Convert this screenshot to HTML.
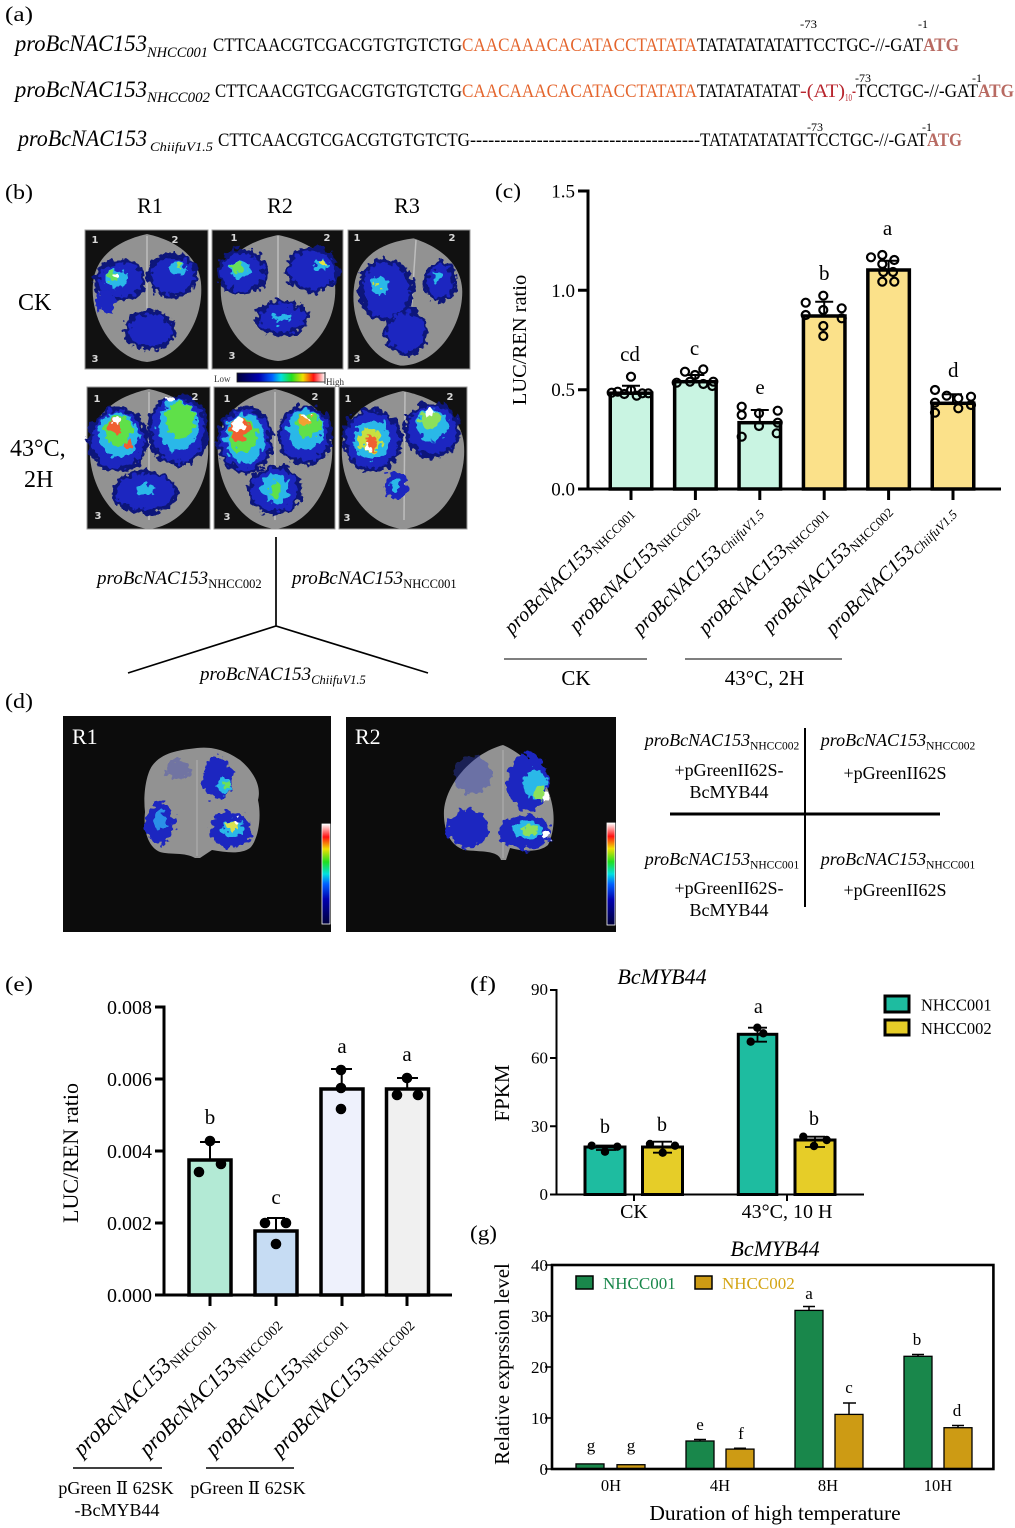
<!DOCTYPE html>
<html><head><meta charset="utf-8"><style>html,body{margin:0;padding:0;background:#fff}svg{display:block}</style></head>
<body>
<svg xmlns="http://www.w3.org/2000/svg" xmlns:xlink="http://www.w3.org/1999/xlink" width="1015" height="1528" viewBox="0 0 1015 1528" font-family="'Liberation Serif','DejaVu Serif','Noto Serif CJK SC',serif">
<defs>
 <linearGradient id="cbh" x1="0" y1="0" x2="1" y2="0">
  <stop offset="0" stop-color="#00003a"/><stop offset="0.25" stop-color="#0000b0"/><stop offset="0.4" stop-color="#0060ff"/><stop offset="0.5" stop-color="#00e0e0"/><stop offset="0.62" stop-color="#20e020"/><stop offset="0.75" stop-color="#f0e000"/><stop offset="0.87" stop-color="#ff1010"/><stop offset="1" stop-color="#ffffff"/>
 </linearGradient>
 <linearGradient id="cbv" x1="0" y1="1" x2="0" y2="0">
  <stop offset="0" stop-color="#00003a"/><stop offset="0.25" stop-color="#0000b0"/><stop offset="0.4" stop-color="#0060ff"/><stop offset="0.5" stop-color="#00e0e0"/><stop offset="0.62" stop-color="#20e020"/><stop offset="0.75" stop-color="#f0e000"/><stop offset="0.87" stop-color="#ff1010"/><stop offset="1" stop-color="#ffffff"/>
 </linearGradient>
 <filter id="rag" x="-25%" y="-25%" width="150%" height="150%">
  <feTurbulence type="fractalNoise" baseFrequency="0.16" numOctaves="2" seed="3" result="n"/>
  <feDisplacementMap in="SourceGraphic" in2="n" scale="13" xChannelSelector="R" yChannelSelector="G"/>
 </filter>
 <path id="leaf" d="M0,-1 C0.25,-0.95 0.9,-0.8 0.98,-0.25 C1.05,0.35 0.6,0.95 0,1 C-0.6,0.95 -1.05,0.35 -0.98,-0.25 C-0.9,-0.8 -0.25,-0.95 0,-1Z"/>
</defs>
<rect width="1015" height="1528" fill="#fff"/>

<!-- ================= (a) ================= -->
<text x="5" y="21" font-size="21" textLength="28" lengthAdjust="spacingAndGlyphs">(a)</text>
<g font-size="12">
 <text x="800" y="28" textLength="17" lengthAdjust="spacingAndGlyphs">-73</text><text x="918" y="28">-1</text>
 <text x="855" y="82" textLength="16" lengthAdjust="spacingAndGlyphs">-73</text><text x="972" y="82">-1</text>
 <text x="807" y="131" textLength="16" lengthAdjust="spacingAndGlyphs">-73</text><text x="922" y="131">-1</text>
</g>
<!-- line 1 -->
<text x="15" y="51" font-size="23" font-style="italic" textLength="132" lengthAdjust="spacingAndGlyphs">proBcNAC153</text>
<text x="147" y="57" font-size="14.5" font-style="italic" textLength="61" lengthAdjust="spacingAndGlyphs">NHCC001</text>
<g font-size="18.5">
<text x="213" y="51" textLength="249" lengthAdjust="spacingAndGlyphs">CTTCAACGTCGACGTGTGTCTG</text>
<text x="462" y="51" fill="#e4652d" textLength="235" lengthAdjust="spacingAndGlyphs">CAACAAACACATACCTATATA</text>
<text x="697" y="51" textLength="226" lengthAdjust="spacingAndGlyphs">TATATATATATTCCTGC-//-GAT</text>
<text x="923" y="51" font-weight="bold" fill="#b86a62" textLength="36" lengthAdjust="spacingAndGlyphs">ATG</text>
</g>
<!-- line 2 -->
<text x="15" y="97" font-size="23" font-style="italic" textLength="132" lengthAdjust="spacingAndGlyphs">proBcNAC153</text>
<text x="147" y="102" font-size="14.5" font-style="italic" textLength="63" lengthAdjust="spacingAndGlyphs">NHCC002</text>
<g font-size="18.5">
<text x="215" y="97" textLength="247" lengthAdjust="spacingAndGlyphs">CTTCAACGTCGACGTGTGTCTG</text>
<text x="462" y="97" fill="#e4652d" textLength="235" lengthAdjust="spacingAndGlyphs">CAACAAACACATACCTATATA</text>
<text x="697" y="97" textLength="103" lengthAdjust="spacingAndGlyphs">TATATATATAT</text>
<text x="800" y="97" fill="#b8262e" textLength="45" lengthAdjust="spacingAndGlyphs">-(AT)</text>
<text x="845" y="101" font-size="11" fill="#b8262e" textLength="7" lengthAdjust="spacingAndGlyphs">10</text>
<text x="852" y="97" fill="#b8262e" textLength="4" lengthAdjust="spacingAndGlyphs">-</text>
<text x="856" y="97" textLength="122" lengthAdjust="spacingAndGlyphs">TCCTGC-//-GAT</text>
<text x="978" y="97" font-weight="bold" fill="#b86a62" textLength="36" lengthAdjust="spacingAndGlyphs">ATG</text>
</g>
<!-- line 3 -->
<text x="18" y="146" font-size="23" font-style="italic" textLength="129" lengthAdjust="spacingAndGlyphs">proBcNAC153</text>
<text x="150" y="151" font-size="13" font-style="italic" textLength="63" lengthAdjust="spacingAndGlyphs">ChiifuV1.5</text>
<g font-size="18.5">
<text x="218" y="146" textLength="252" lengthAdjust="spacingAndGlyphs">CTTCAACGTCGACGTGTGTCTG</text>
<text x="470" y="146" textLength="230" lengthAdjust="spacingAndGlyphs">--------------------------------------</text>
<text x="700" y="146" textLength="227" lengthAdjust="spacingAndGlyphs">TATATATATATTCCTGC-//-GAT</text>
<text x="927" y="146" font-weight="bold" fill="#b86a62" textLength="35" lengthAdjust="spacingAndGlyphs">ATG</text>
</g>

<!-- ================= (b) ================= -->
<text x="5" y="199" font-size="21" textLength="28" lengthAdjust="spacingAndGlyphs">(b)</text>
<g font-size="22" text-anchor="middle"><text x="150" y="213">R1</text><text x="280" y="213">R2</text><text x="407" y="213">R3</text></g>
<text x="18" y="310" font-size="24">CK</text>
<text x="10" y="456" font-size="24">43°C,</text>
<text x="24" y="487" font-size="24">2H</text>

<!-- row 1 R1 -->
<rect x="85" y="230" width="123" height="139" fill="#111" stroke="#9a9a9a" stroke-width="1"/>
<use xlink:href="#leaf" href="#leaf" transform="translate(147,298) scale(55,64)" fill="#929292"/>
<line x1="147" y1="236" x2="147" y2="335" stroke="#bdbdbd" stroke-width="1.5"/>
<g filter="url(#rag)">
 <ellipse cx="120" cy="280" rx="26" ry="21" fill="#10187a"/>
 <ellipse cx="172" cy="275" rx="25" ry="23" fill="#10187a"/>
 <ellipse cx="150" cy="330" rx="26" ry="20" fill="#10187a"/>
 <ellipse cx="120" cy="280" rx="22" ry="17" fill="#1a26c0"/>
 <ellipse cx="172" cy="275" rx="21" ry="19" fill="#1a26c0"/>
 <ellipse cx="150" cy="330" rx="22" ry="16" fill="#1a26c0"/>
 <ellipse cx="106" cy="302" rx="10" ry="12" fill="#1a26c0"/>
 <ellipse cx="116" cy="278" rx="11" ry="9" fill="#2ab8e8"/>
 <ellipse cx="178" cy="268" rx="8" ry="7" fill="#2ab8e8"/>
 <ellipse cx="113" cy="276" rx="6" ry="5" fill="#6be05a"/>
 <ellipse cx="180" cy="266" rx="4" ry="3" fill="#8ee05a"/>
 <ellipse cx="116" cy="276" rx="3" ry="3" fill="#fff"/>
</g>
<!-- row 1 R2 -->
<rect x="212" y="230" width="131" height="139" fill="#111" stroke="#9a9a9a" stroke-width="1"/>
<use xlink:href="#leaf" href="#leaf" transform="translate(278,298) scale(58,63)" fill="#929292"/>
<line x1="278" y1="236" x2="278" y2="330" stroke="#bdbdbd" stroke-width="1.5"/>
<g filter="url(#rag)">
 <ellipse cx="242" cy="272" rx="25" ry="23" fill="#10187a"/>
 <ellipse cx="312" cy="270" rx="27" ry="23" fill="#10187a"/>
 <ellipse cx="282" cy="318" rx="27" ry="18" fill="#10187a"/>
 <ellipse cx="242" cy="272" rx="21" ry="19" fill="#1a26c0"/>
 <ellipse cx="312" cy="270" rx="23" ry="19" fill="#1a26c0"/>
 <ellipse cx="282" cy="318" rx="23" ry="14" fill="#1a26c0"/>
 <ellipse cx="240" cy="270" rx="10" ry="9" fill="#2ab8e8"/>
 <ellipse cx="320" cy="265" rx="7" ry="6" fill="#2ab8e8"/>
 <ellipse cx="238" cy="268" rx="6" ry="6" fill="#6be05a"/>
 <ellipse cx="322" cy="263" rx="3" ry="3" fill="#e8e040"/>
 <ellipse cx="282" cy="318" rx="8" ry="5" fill="#2ab8e8"/>
</g>
<!-- row 1 R3 -->
<rect x="348" y="230" width="122" height="139" fill="#111" stroke="#9a9a9a" stroke-width="1"/>
<use xlink:href="#leaf" href="#leaf" transform="translate(407,302) rotate(6) scale(55,64)" fill="#929292"/>
<line x1="416" y1="240" x2="410" y2="330" stroke="#bdbdbd" stroke-width="1.5"/>
<g filter="url(#rag)">
 <ellipse cx="386" cy="290" rx="28" ry="32" fill="#10187a"/>
 <ellipse cx="440" cy="282" rx="17" ry="20" fill="#10187a"/>
 <ellipse cx="406" cy="332" rx="22" ry="24" fill="#10187a"/>
 <ellipse cx="386" cy="290" rx="23" ry="27" fill="#1a26c0"/>
 <ellipse cx="440" cy="282" rx="13" ry="16" fill="#1a26c0"/>
 <ellipse cx="406" cy="332" rx="18" ry="20" fill="#1a26c0"/>
 <ellipse cx="380" cy="285" rx="8" ry="10" fill="#2ab8e8"/>
 <ellipse cx="438" cy="276" rx="5" ry="6" fill="#2ab8e8"/>
 <ellipse cx="378" cy="284" rx="3" ry="3" fill="#c8e040"/>
</g>
<!-- row 2 R1 -->
<rect x="87" y="387" width="123" height="142" fill="#111" stroke="#9a9a9a" stroke-width="1"/>
<use xlink:href="#leaf" href="#leaf" transform="translate(149,459) scale(60,70)" fill="#929292"/>
<line x1="149" y1="392" x2="149" y2="520" stroke="#bdbdbd" stroke-width="1.5"/>
<g filter="url(#rag)">
 <ellipse cx="118" cy="440" rx="30" ry="33" fill="#10187a"/>
 <ellipse cx="178" cy="430" rx="31" ry="36" fill="#10187a"/>
 <ellipse cx="145" cy="492" rx="33" ry="22" fill="#10187a"/>
 <ellipse cx="118" cy="440" rx="26" ry="29" fill="#1a26c0"/>
 <ellipse cx="178" cy="430" rx="27" ry="32" fill="#1a26c0"/>
 <ellipse cx="145" cy="492" rx="29" ry="18" fill="#1a26c0"/>
 <ellipse cx="118" cy="435" rx="20" ry="22" fill="#2ab8e8"/>
 <ellipse cx="178" cy="425" rx="20" ry="25" fill="#2ab8e8"/>
 <ellipse cx="118" cy="430" rx="14" ry="15" fill="#5ee04a"/>
 <ellipse cx="180" cy="420" rx="15" ry="18" fill="#5ee04a"/>
 <ellipse cx="115" cy="425" rx="7" ry="8" fill="#f06030"/>
 <ellipse cx="128" cy="445" rx="4" ry="4" fill="#f06030"/>
 <ellipse cx="116" cy="421" rx="4" ry="4" fill="#fff"/>
 <ellipse cx="170" cy="399" rx="6" ry="3" fill="#fff"/>
 <ellipse cx="145" cy="490" rx="10" ry="6" fill="#2ab8e8"/>
</g>
<!-- row 2 R2 -->
<rect x="214" y="387" width="121" height="142" fill="#111" stroke="#9a9a9a" stroke-width="1"/>
<use xlink:href="#leaf" href="#leaf" transform="translate(275,459) scale(58,70)" fill="#929292"/>
<line x1="275" y1="392" x2="275" y2="520" stroke="#bdbdbd" stroke-width="1.5"/>
<g filter="url(#rag)">
 <ellipse cx="245" cy="440" rx="28" ry="34" fill="#10187a"/>
 <ellipse cx="305" cy="435" rx="28" ry="30" fill="#10187a"/>
 <ellipse cx="275" cy="490" rx="27" ry="25" fill="#10187a"/>
 <ellipse cx="245" cy="440" rx="24" ry="30" fill="#1a26c0"/>
 <ellipse cx="305" cy="435" rx="24" ry="26" fill="#1a26c0"/>
 <ellipse cx="275" cy="490" rx="23" ry="21" fill="#1a26c0"/>
 <ellipse cx="245" cy="438" rx="20" ry="25" fill="#2ab8e8"/>
 <ellipse cx="305" cy="430" rx="18" ry="20" fill="#2ab8e8"/>
 <ellipse cx="275" cy="488" rx="14" ry="14" fill="#2ab8e8"/>
 <ellipse cx="243" cy="435" rx="14" ry="18" fill="#5ee04a"/>
 <ellipse cx="308" cy="425" rx="12" ry="12" fill="#5ee04a"/>
 <ellipse cx="275" cy="490" rx="6" ry="8" fill="#5ee04a"/>
 <ellipse cx="240" cy="428" rx="10" ry="11" fill="#f06030"/>
 <ellipse cx="305" cy="420" rx="6" ry="5" fill="#f0a030"/>
 <ellipse cx="238" cy="425" rx="6" ry="8" fill="#fff"/>
 <ellipse cx="306" cy="416" rx="4" ry="3" fill="#fff"/>
</g>
<!-- row 2 R3 -->
<rect x="339" y="387" width="128" height="142" fill="#111" stroke="#9a9a9a" stroke-width="1"/>
<use xlink:href="#leaf" href="#leaf" transform="translate(403,460) scale(62,69)" fill="#929292"/>
<line x1="405" y1="392" x2="404" y2="520" stroke="#bdbdbd" stroke-width="1.5"/>
<g filter="url(#rag)">
 <ellipse cx="372" cy="440" rx="30" ry="32" fill="#10187a"/>
 <ellipse cx="432" cy="430" rx="28" ry="28" fill="#10187a"/>
 <ellipse cx="372" cy="440" rx="26" ry="28" fill="#1a26c0"/>
 <ellipse cx="432" cy="430" rx="24" ry="24" fill="#1a26c0"/>
 <ellipse cx="396" cy="486" rx="12" ry="14" fill="#1a26c0"/>
 <ellipse cx="372" cy="440" rx="18" ry="20" fill="#2ab8e8"/>
 <ellipse cx="432" cy="425" rx="16" ry="16" fill="#2ab8e8"/>
 <ellipse cx="370" cy="440" rx="11" ry="12" fill="#c8e040"/>
 <ellipse cx="430" cy="420" rx="10" ry="8" fill="#8ee05a"/>
 <ellipse cx="372" cy="443" rx="6" ry="7" fill="#f06030"/>
 <ellipse cx="368" cy="447" rx="4" ry="4" fill="#fff"/>
 <ellipse cx="430" cy="412" rx="4" ry="3" fill="#fff"/>
 <ellipse cx="396" cy="484" rx="5" ry="6" fill="#2ab8e8"/>
</g>
<!-- frame numbers -->
<g font-family="'DejaVu Sans',sans-serif" font-size="10" font-weight="bold" fill="#d8d8d8" text-anchor="middle">
 <text x="95" y="243">1</text><text x="175" y="243">2</text><text x="95" y="362">3</text>
 <text x="234" y="241">1</text><text x="327" y="241">2</text><text x="232" y="359">3</text>
 <text x="357" y="241">1</text><text x="452" y="241">2</text><text x="357" y="362">3</text>
 <text x="97" y="402">1</text><text x="195" y="400">2</text><text x="98" y="519">3</text>
 <text x="227" y="402">1</text><text x="315" y="400">2</text><text x="227" y="520">3</text>
 <text x="348" y="402">1</text><text x="450" y="400">2</text><text x="347" y="521">3</text>
</g>
<!-- colour bar -->
<text x="214" y="382" font-size="9" fill="#333">Low</text>
<rect x="237" y="373" width="88" height="9" fill="url(#cbh)" stroke="#222" stroke-width="0.8"/>
<path d="M325,372 V384" stroke="#222" stroke-width="0.8"/>
<text x="326" y="385" font-size="9" fill="#333">High</text>
<!-- tree -->
<path d="M276,537 V626 M128,673 L276,626 L428,673" stroke="#000" stroke-width="1.7" fill="none"/>
<text x="97" y="584"><tspan font-style="italic" font-size="19">proBcNAC153</tspan><tspan font-size="12.5" dy="4">NHCC002</tspan></text>
<text x="292" y="584"><tspan font-style="italic" font-size="19">proBcNAC153</tspan><tspan font-size="12.5" dy="4">NHCC001</tspan></text>
<text x="200" y="680"><tspan font-style="italic" font-size="19">proBcNAC153</tspan><tspan font-size="12.5" font-style="italic" dy="4">ChiifuV1.5</tspan></text>

<!-- ================= (c) ================= -->
<text x="495" y="198" font-size="21" textLength="26" lengthAdjust="spacingAndGlyphs">(c)</text>
<text transform="translate(526,340) rotate(-90)" text-anchor="middle" font-size="20.5">LUC/REN ratio</text>
<g font-size="19" text-anchor="end">
 <text x="575" y="197.5">1.5</text><text x="575" y="296.8">1.0</text><text x="575" y="396.2">0.5</text><text x="575" y="495.5">0.0</text>
</g>
<g stroke="#000" stroke-width="3" fill="none">
 <path d="M588,189.5 V489 M578,191 H588 M578,290.3 H588 M578,389.7 H588 M578,489 H1001"/>
 <path d="M631,489 V500 M695.4,489 V500 M759.8,489 V500 M824.2,489 V500 M888.6,489 V500 M953,489 V500"/>
</g>
<g stroke="#000" stroke-width="3.5">
 <rect x="610.25" y="393.2" width="41.5" height="95.8" fill="#c9f4e2"/>
 <rect x="674.65" y="381.7" width="41.5" height="107.3" fill="#c9f4e2"/>
 <rect x="739.05" y="422.7" width="41.5" height="66.3" fill="#c9f4e2"/>
 <rect x="803.45" y="316" width="41.5" height="173" fill="#fbe18a"/>
 <rect x="867.85" y="270" width="41.5" height="219" fill="#fbe18a"/>
 <rect x="932.25" y="403.3" width="41.5" height="85.7" fill="#fbe18a"/>
</g>
<g stroke="#000" stroke-width="2" fill="none">
 <path d="M631,393 V385.7 M622,385.7 H640"/>
 <path d="M695.4,381.7 V375 M686.4,375 H704.4"/>
 <path d="M759.8,422.7 V410 M750.8,410 H768.8"/>
 <path d="M824.2,316 V301.7 M815.2,301.7 H833.2"/>
 <path d="M888.6,270 V260.7 M879.6,260.7 H897.6"/>
 <path d="M953,403.3 V394.3 M944,394.3 H962"/>
</g>
<g stroke="#000" stroke-width="2.2" fill="none">
 <circle cx="611.7" cy="392.7" r="4"/><circle cx="617.7" cy="391.7" r="4"/><circle cx="624.3" cy="394" r="4"/><circle cx="631" cy="376.7" r="4"/><circle cx="631" cy="390" r="4"/><circle cx="636.7" cy="395.7" r="4"/><circle cx="642.3" cy="393.3" r="4"/><circle cx="648.3" cy="393.3" r="4"/>
 <circle cx="676.7" cy="382.7" r="4"/><circle cx="685" cy="371.7" r="4"/><circle cx="690" cy="381.7" r="4"/><circle cx="695" cy="375" r="4"/><circle cx="703.3" cy="369.3" r="4"/><circle cx="703.3" cy="384" r="4"/><circle cx="712.3" cy="386" r="4"/><circle cx="713.3" cy="381.7" r="4"/>
 <circle cx="741.7" cy="406.7" r="4"/><circle cx="741.7" cy="415" r="4"/><circle cx="741.7" cy="436.7" r="4"/><circle cx="759" cy="413.3" r="4"/><circle cx="759" cy="426" r="4"/><circle cx="777.7" cy="410.7" r="4"/><circle cx="777.7" cy="422.7" r="4"/><circle cx="776.7" cy="433.3" r="4"/>
 <circle cx="805.7" cy="302.7" r="4"/><circle cx="805.7" cy="315" r="4"/><circle cx="823.3" cy="295.7" r="4"/><circle cx="823.3" cy="310" r="4"/><circle cx="823.3" cy="326" r="4"/><circle cx="823.3" cy="336" r="4"/><circle cx="841.7" cy="308.3" r="4"/><circle cx="841.7" cy="318.3" r="4"/>
 <circle cx="871" cy="257.3" r="4"/><circle cx="882.3" cy="255" r="4"/><circle cx="882.3" cy="264" r="4"/><circle cx="883.3" cy="272" r="4"/><circle cx="882.3" cy="281.7" r="4"/><circle cx="894.3" cy="260" r="4"/><circle cx="894.3" cy="281.7" r="4"/><circle cx="893" cy="272" r="4"/>
 <circle cx="935" cy="390" r="4"/><circle cx="935" cy="402.7" r="4"/><circle cx="935" cy="412.7" r="4"/><circle cx="946.7" cy="395.7" r="4"/><circle cx="958.3" cy="408.3" r="4"/><circle cx="958.3" cy="398.3" r="4"/><circle cx="971" cy="396.7" r="4"/><circle cx="971" cy="405" r="4"/>
</g>
<g font-size="21" text-anchor="middle">
 <text x="630" y="361">cd</text><text x="694.5" y="355">c</text><text x="760" y="394">e</text><text x="824.3" y="280">b</text><text x="887.5" y="235">a</text><text x="953.3" y="377">d</text>
</g>
<g>
 <text transform="translate(634,513) rotate(-45)" text-anchor="end"><tspan font-style="italic" font-size="20">proBcNAC153</tspan><tspan font-size="13" dy="3">NHCC001</tspan></text>
 <text transform="translate(699,511) rotate(-45)" text-anchor="end"><tspan font-style="italic" font-size="20">proBcNAC153</tspan><tspan font-size="13" dy="3">NHCC002</tspan></text>
 <text transform="translate(763,513) rotate(-45)" text-anchor="end"><tspan font-style="italic" font-size="20">proBcNAC153</tspan><tspan font-size="13" font-style="italic" dy="3">ChiifuV1.5</tspan></text>
 <text transform="translate(828,513) rotate(-45)" text-anchor="end"><tspan font-style="italic" font-size="20">proBcNAC153</tspan><tspan font-size="13" dy="3">NHCC001</tspan></text>
 <text transform="translate(892,511) rotate(-45)" text-anchor="end"><tspan font-style="italic" font-size="20">proBcNAC153</tspan><tspan font-size="13" dy="3">NHCC002</tspan></text>
 <text transform="translate(956,513) rotate(-45)" text-anchor="end"><tspan font-style="italic" font-size="20">proBcNAC153</tspan><tspan font-size="13" font-style="italic" dy="3">ChiifuV1.5</tspan></text>
</g>
<path d="M504,659 H647 M685,659 H842" stroke="#555" stroke-width="1.6"/>
<g font-size="21" text-anchor="middle"><text x="576" y="685">CK</text><text x="764.5" y="685">43°C, 2H</text></g>

<!-- ================= (d) ================= -->
<text x="5" y="708" font-size="21" textLength="28" lengthAdjust="spacingAndGlyphs">(d)</text>
<rect x="63" y="716" width="268" height="216" fill="#0c0c0c"/>
<rect x="346" y="717" width="270" height="215" fill="#0c0c0c"/>
<text x="72" y="744" font-size="22" fill="#fff">R1</text>
<text x="355" y="744" font-size="22" fill="#fff">R2</text>
<!-- R1 leaf -->
<path d="M197,748 C215,746 228,752 240,760 C252,770 262,785 258,800 C262,818 258,840 250,848 C240,855 225,852 212,850 L200,858 L195,858 C185,852 170,855 160,852 C148,847 143,830 145,812 C143,795 146,775 152,766 C162,752 180,750 197,748 Z" fill="#929292"/>
<path d="M197,760 V856" stroke="#a8a8a8" stroke-width="1.5"/>
<g filter="url(#rag)">
 <ellipse cx="218" cy="778" rx="15" ry="21" fill="#1a26c0"/>
 <ellipse cx="231" cy="830" rx="21" ry="18" fill="#1a26c0"/>
 <ellipse cx="160" cy="823" rx="14" ry="21" fill="#1a26c0"/>
 <ellipse cx="178" cy="770" rx="12" ry="9" fill="#3040c0" opacity="0.35"/>
 <ellipse cx="233" cy="828" rx="11" ry="9" fill="#2ab8e8"/>
 <ellipse cx="233" cy="825" rx="7" ry="6" fill="#d8e050"/>
 <ellipse cx="236" cy="822" rx="4" ry="3" fill="#fff"/>
 <ellipse cx="224" cy="786" rx="7" ry="8" fill="#2ab8e8"/>
 <ellipse cx="226" cy="785" rx="4" ry="4" fill="#6be05a"/>
 <ellipse cx="160" cy="820" rx="6" ry="9" fill="#2a90e8"/>
</g>
<rect x="322" y="824" width="8" height="100" fill="url(#cbv)" stroke="#fff" stroke-width="0.8"/>
<!-- R2 leaf -->
<path d="M503,745 C520,752 540,770 548,790 C556,812 555,830 548,845 C540,852 525,852 510,848 L506,860 L501,860 C498,850 480,852 465,850 C450,846 443,830 444,810 C446,790 460,770 478,757 C488,750 496,747 503,745 Z" fill="#929292"/>
<path d="M503,750 V858" stroke="#a8a8a8" stroke-width="1.5"/>
<g filter="url(#rag)">
 <ellipse cx="528" cy="782" rx="21" ry="28" fill="#1a26c0"/>
 <ellipse cx="525" cy="832" rx="26" ry="17" fill="#1a26c0"/>
 <ellipse cx="468" cy="829" rx="21" ry="19" fill="#1a26c0"/>
 <ellipse cx="472" cy="775" rx="19" ry="19" fill="#3040c0" opacity="0.4"/>
 <ellipse cx="535" cy="785" rx="12" ry="14" fill="#2ab8e8"/>
 <ellipse cx="540" cy="792" rx="6" ry="7" fill="#8ee05a"/>
 <ellipse cx="546" cy="798" rx="3" ry="4" fill="#fff"/>
 <ellipse cx="528" cy="830" rx="14" ry="9" fill="#2ab8e8"/>
 <ellipse cx="530" cy="830" rx="7" ry="5" fill="#8ee05a"/>
 <ellipse cx="546" cy="835" rx="4" ry="4" fill="#fff"/>
</g>
<rect x="607" y="823" width="8" height="102" fill="url(#cbv)" stroke="#fff" stroke-width="0.8"/>
<!-- table -->
<path d="M805,728 V907" stroke="#000" stroke-width="2"/>
<path d="M670,814 H940" stroke="#000" stroke-width="3"/>
<g font-size="18" text-anchor="middle">
 <text x="722" y="746"><tspan font-style="italic">proBcNAC153</tspan><tspan font-size="11.5" dy="3.5">NHCC002</tspan></text>
 <text x="729" y="776">+pGreenII62S-</text>
 <text x="729" y="798">BcMYB44</text>
 <text x="898" y="746"><tspan font-style="italic">proBcNAC153</tspan><tspan font-size="11.5" dy="3.5">NHCC002</tspan></text>
 <text x="895" y="779">+pGreenII62S</text>
 <text x="722" y="865"><tspan font-style="italic">proBcNAC153</tspan><tspan font-size="11.5" dy="3.5">NHCC001</tspan></text>
 <text x="729" y="894">+pGreenII62S-</text>
 <text x="729" y="916">BcMYB44</text>
 <text x="898" y="865"><tspan font-style="italic">proBcNAC153</tspan><tspan font-size="11.5" dy="3.5">NHCC001</tspan></text>
 <text x="895" y="896">+pGreenII62S</text>
</g>

<!-- ================= (e) ================= -->
<text x="5" y="991" font-size="21" textLength="28" lengthAdjust="spacingAndGlyphs">(e)</text>
<text transform="translate(78,1153) rotate(-90)" text-anchor="middle" font-size="22">LUC/REN ratio</text>
<g font-size="20" text-anchor="end">
 <text x="152" y="1014">0.008</text><text x="152" y="1086">0.006</text><text x="152" y="1158">0.004</text><text x="152" y="1230">0.002</text><text x="152" y="1302">0.000</text>
</g>
<g stroke="#000" stroke-width="3" fill="none">
 <path d="M164,1005.5 V1295 M155,1007 H164 M155,1079 H164 M155,1151 H164 M155,1223 H164 M155,1295 H452"/>
 <path d="M210,1295 V1306 M276,1295 V1306 M342,1295 V1306 M407,1295 V1306"/>
</g>
<g stroke="#000" stroke-width="3.5">
 <rect x="189" y="1160" width="42" height="135" fill="#b3ead5"/>
 <rect x="255" y="1231" width="42" height="64" fill="#c6dcf3"/>
 <rect x="321" y="1089" width="42" height="206" fill="#eef1fc"/>
 <rect x="386.5" y="1089" width="42" height="206" fill="#f0f0f0"/>
</g>
<g stroke="#000" stroke-width="2" fill="none">
 <path d="M210,1160 V1142 M200,1142 H220"/>
 <path d="M276,1231 V1218 M267,1218 H285"/>
 <path d="M341.7,1089 V1069 M331,1069 H352"/>
 <path d="M407.2,1089 V1078 M397,1078 H418"/>
</g>
<g fill="#000">
 <circle cx="199" cy="1172" r="5.3"/><circle cx="210" cy="1141" r="5.3"/><circle cx="221" cy="1164" r="5.3"/>
 <circle cx="265" cy="1223" r="5.3"/><circle cx="276" cy="1244" r="5.3"/><circle cx="286" cy="1223" r="5.3"/>
 <circle cx="341" cy="1070" r="5.3"/><circle cx="341" cy="1088" r="5.3"/><circle cx="341" cy="1109" r="5.3"/>
 <circle cx="397" cy="1095" r="5.3"/><circle cx="407" cy="1078" r="5.3"/><circle cx="418" cy="1095" r="5.3"/>
</g>
<g font-size="21" text-anchor="middle">
 <text x="210" y="1124">b</text><text x="276" y="1204">c</text><text x="342" y="1053">a</text><text x="407" y="1061">a</text>
</g>
<g>
 <text transform="translate(215,1324) rotate(-45)" text-anchor="end"><tspan font-style="italic" font-size="22">proBcNAC153</tspan><tspan font-size="14" dy="3.5">NHCC001</tspan></text>
 <text transform="translate(281,1324) rotate(-45)" text-anchor="end"><tspan font-style="italic" font-size="22">proBcNAC153</tspan><tspan font-size="14" dy="3.5">NHCC002</tspan></text>
 <text transform="translate(347,1324) rotate(-45)" text-anchor="end"><tspan font-style="italic" font-size="22">proBcNAC153</tspan><tspan font-size="14" dy="3.5">NHCC001</tspan></text>
 <text transform="translate(413,1324) rotate(-45)" text-anchor="end"><tspan font-style="italic" font-size="22">proBcNAC153</tspan><tspan font-size="14" dy="3.5">NHCC002</tspan></text>
</g>
<path d="M73,1468 H162 M206,1468 H294" stroke="#000" stroke-width="1.6"/>
<g font-size="18" text-anchor="middle">
 <text x="116" y="1494">pGreen Ⅱ 62SK</text>
 <text x="117" y="1516">-BcMYB44</text>
 <text x="248" y="1494">pGreen Ⅱ 62SK</text>
</g>

<!-- ================= (f) ================= -->
<text x="470" y="991" font-size="21" textLength="26" lengthAdjust="spacingAndGlyphs">(f)</text>
<text x="662" y="984" font-size="22" font-style="italic" text-anchor="middle">BcMYB44</text>
<text transform="translate(509,1093) rotate(-90)" text-anchor="middle" font-size="21">FPKM</text>
<g font-size="17" text-anchor="end">
 <text x="548" y="995">90</text><text x="548" y="1063.5">60</text><text x="548" y="1132">30</text><text x="548" y="1200">0</text>
</g>
<g stroke="#000" stroke-width="2" fill="none">
 <path d="M556.5,989 V1194.5 M550,990 H557 M550,1058 H557 M550,1126.3 H557 M550,1194.5 H864"/>
 <path d="M634,1194.5 V1201 M787,1194.5 V1201"/>
</g>
<g stroke="#000" stroke-width="3">
 <rect x="585" y="1147" width="40" height="47.5" fill="#1ebca0"/>
 <rect x="642.5" y="1147" width="40" height="47.5" fill="#e6cd28"/>
 <rect x="738.3" y="1034.3" width="38.5" height="160.2" fill="#1ebca0"/>
 <rect x="795" y="1140" width="40" height="54.5" fill="#e6cd28"/>
</g>
<g stroke="#000" stroke-width="1.8" fill="none">
 <path d="M757.5,1027.7 V1041.7 M748,1027.7 H767 M748,1041.7 H767"/>
 <path d="M815,1136.7 V1147 M805,1136.7 H825 M805,1147 H825"/>
 <path d="M662.5,1141.7 V1152.7 M653,1141.7 H672 M653,1152.7 H672"/>
 <path d="M596,1145.5 H616 M596,1150 H616"/>
</g>
<g fill="#000">
 <circle cx="591.7" cy="1145.7" r="4.2"/><circle cx="605" cy="1151.7" r="4.2"/><circle cx="617.3" cy="1146.7" r="4.2"/>
 <circle cx="650" cy="1144" r="4.2"/><circle cx="662.7" cy="1152.7" r="4.2"/><circle cx="675" cy="1145.7" r="4.2"/>
 <circle cx="757.3" cy="1027.7" r="4.2"/><circle cx="763.3" cy="1033.3" r="4.2"/><circle cx="750.7" cy="1041.7" r="4.2"/>
 <circle cx="803.3" cy="1136.7" r="4.2"/><circle cx="814" cy="1146" r="4.2"/><circle cx="826.7" cy="1140" r="4.2"/>
</g>
<g font-size="20" text-anchor="middle">
 <text x="605" y="1133">b</text><text x="662" y="1131">b</text><text x="758.3" y="1013">a</text><text x="814" y="1125">b</text>
</g>
<g font-size="20" text-anchor="middle"><text x="634" y="1218">CK</text><text x="787" y="1218">43°C, 10 H</text></g>
<rect x="885" y="996" width="24" height="16" fill="#1ebca0" stroke="#000" stroke-width="3"/>
<rect x="885" y="1020" width="24" height="15" fill="#e6cd28" stroke="#000" stroke-width="3"/>
<g font-size="16.5"><text x="921" y="1010.5">NHCC001</text><text x="921" y="1034">NHCC002</text></g>

<!-- ================= (g) ================= -->
<text x="470" y="1240" font-size="21" textLength="27" lengthAdjust="spacingAndGlyphs">(g)</text>
<text x="775" y="1256" font-size="22" font-style="italic" text-anchor="middle">BcMYB44</text>
<text transform="translate(509,1364) rotate(-90)" text-anchor="middle" font-size="21">Relative exprssion level</text>
<g font-size="17" text-anchor="end">
 <text x="548" y="1271">40</text><text x="548" y="1322">30</text><text x="548" y="1373">20</text><text x="548" y="1424">10</text><text x="548" y="1475">0</text>
</g>
<g stroke="#000" stroke-width="1.6" fill="none">
 <path d="M545,1265 H552 M545,1316 H552 M545,1367 H552 M545,1418 H552 M545,1469 H552"/>
</g>
<g stroke="#000" stroke-width="1.3">
 <rect x="576" y="1463.9" width="28" height="5.1" fill="#19874b"/>
 <rect x="617" y="1464.7" width="28" height="4.3" fill="#cd9b14"/>
 <rect x="686" y="1441" width="28" height="28" fill="#19874b"/>
 <rect x="726" y="1449.1" width="28" height="19.9" fill="#cd9b14"/>
 <rect x="795" y="1310.4" width="28" height="158.6" fill="#19874b"/>
 <rect x="835" y="1414.4" width="28" height="54.6" fill="#cd9b14"/>
 <rect x="904" y="1356.3" width="28" height="112.7" fill="#19874b"/>
 <rect x="944" y="1427.7" width="28" height="41.3" fill="#cd9b14"/>
</g>
<g stroke="#000" stroke-width="1.5" fill="none">
 <path d="M809,1310.4 V1306.5 M803,1306.5 H815"/>
 <path d="M849,1414.4 V1403 M843,1403 H856"/>
 <path d="M918,1356.3 V1354.5 M912,1354.5 H924"/>
 <path d="M958,1427.7 V1425.5 M952,1425.5 H964"/>
 <path d="M700,1441 V1439.5 M694,1439.5 H706"/>
 <path d="M740,1449.1 V1448.3 M734,1448.3 H746"/>
</g>
<rect x="552" y="1265" width="441.4" height="204" fill="none" stroke="#000" stroke-width="2.6"/>
<g font-size="17" text-anchor="middle">
 <text x="591" y="1451">g</text><text x="631" y="1451">g</text><text x="700" y="1430">e</text><text x="741" y="1439">f</text>
 <text x="809" y="1299">a</text><text x="849" y="1393">c</text><text x="917" y="1345">b</text><text x="957" y="1416">d</text>
</g>
<g font-size="16.5" text-anchor="middle">
 <text x="611" y="1491">0H</text><text x="720" y="1491">4H</text><text x="828" y="1491">8H</text><text x="938" y="1491">10H</text>
</g>
<text x="775" y="1520" font-size="21.5" text-anchor="middle">Duration of high temperature</text>
<rect x="576" y="1276" width="17" height="13" fill="#19874b" stroke="#000" stroke-width="1.5"/>
<text x="603" y="1289" font-size="17" fill="#19874b">NHCC001</text>
<rect x="695" y="1276" width="17" height="13" fill="#cd9b14" stroke="#000" stroke-width="1.5"/>
<text x="722" y="1289" font-size="17" fill="#d4a515">NHCC002</text>
</svg>
</body></html>
